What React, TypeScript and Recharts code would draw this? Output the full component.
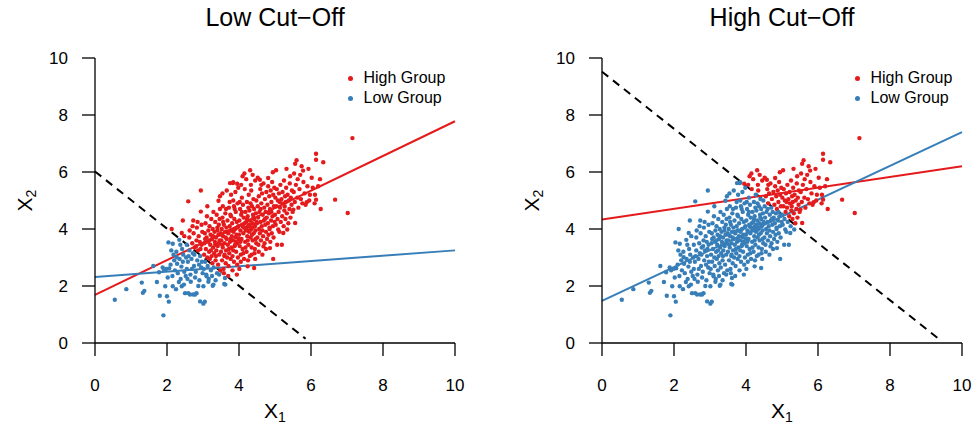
import React from "react";
import {
  ScatterChart,
  Scatter,
  XAxis,
  YAxis,
  ReferenceLine,
  Label,
} from "recharts";

const RED = "#E41A1C";
const BLUE = "#377EB8";
const FONT = "'Liberation Sans', Arial, Helvetica, sans-serif";

// [X1, X2] (same points in both panels)
const POINTS: [number, number][] = [
  [0.55, 1.52], [0.87, 1.89], [1.3, 2.12], [1.37, 1.83], [1.33, 1.76],
  [1.62, 2.7], [1.72, 2.14], [1.8, 1.66], [1.9, 0.97], [1.88, 2.65], [1.95, 1.99], [1.78, 2.48], [1.92, 2.55], [1.98, 2.6],
  [2.0, 1.64], [2.05, 1.45], [2.16, 1.99], [2.25, 1.89], [2.33, 2.14], [2.04, 3.53], [2.16, 3.48], [2.34, 3.62],
  [2.37, 3.45], [2.42, 3.3], [2.18, 3.1], [2.27, 3.01], [2.13, 4.0], [2.06, 2.62], [2.1, 2.75], [2.2, 2.9],
  [2.22, 2.55], [2.28, 2.78], [2.3, 2.45], [2.35, 2.95], [2.4, 2.68], [2.45, 3.1], [2.48, 2.5], [2.15, 2.35],
  [2.38, 2.25], [2.44, 2.85], [2.12, 3.25], [2.26, 3.2], [2.41, 1.99], [2.48, 3.75], [2.02, 2.3], [2.47, 2.05],
  [2.44, 4.3], [2.41, 3.86],
  [2.59, 4.97], [2.94, 5.35], [2.94, 4.61], [2.73, 4.3], [2.5, 1.75], [2.59, 1.75], [2.64, 1.7], [2.73, 1.7],
  [2.82, 1.75], [2.78, 1.7], [2.92, 1.46], [2.52, 2.35], [2.55, 2.6], [2.58, 2.85], [2.6, 3.05], [2.62, 3.25],
  [2.65, 2.4], [2.68, 2.95], [2.7, 3.5], [2.72, 3.15], [2.75, 2.7], [2.77, 3.35], [2.8, 2.5], [2.82, 3.6],
  [2.84, 2.9], [2.86, 3.25], [2.88, 3.75], [2.9, 2.2], [2.92, 3.05], [2.95, 2.65], [2.96, 3.45], [2.98, 3.9],
  [2.55, 3.45], [2.62, 3.7], [2.66, 2.15], [2.74, 3.85], [2.78, 2.3], [2.83, 4.05], [2.87, 2.0], [2.93, 3.3],
  [2.97, 2.85], [2.53, 3.0], [2.57, 2.25], [2.69, 2.6], [2.76, 3.1], [2.81, 3.4], [2.89, 2.75], [2.91, 3.55],
  [2.99, 2.45], [2.63, 3.95], [2.71, 4.1], [2.85, 4.25], [2.96, 4.15],
  [3.01, 1.99], [3.01, 1.38], [3.05, 1.45], [3.1, 2.34], [3.27, 2.01], [3.29, 2.05], [3.43, 4.99], [3.47, 5.15],
  [3.02, 2.6], [3.03, 3.1], [3.04, 3.5], [3.05, 3.85], [3.06, 2.85], [3.07, 4.2], [3.08, 3.3], [3.09, 2.4],
  [3.1, 3.7], [3.11, 4.45], [3.12, 3.0], [3.13, 2.7], [3.14, 3.55], [3.15, 3.95], [3.16, 2.25], [3.17, 3.2],
  [3.18, 4.1], [3.19, 2.95], [3.2, 3.45], [3.21, 3.8], [3.22, 2.55], [3.23, 4.35], [3.24, 3.05], [3.25, 3.65],
  [3.26, 2.8], [3.27, 4.0], [3.28, 3.35], [3.29, 4.6], [3.3, 2.65], [3.31, 3.15], [3.32, 3.9], [3.33, 3.55],
  [3.34, 4.25], [3.35, 2.9], [3.36, 3.7], [3.37, 3.25], [3.38, 4.5], [3.39, 2.45], [3.4, 3.95], [3.41, 3.4],
  [3.42, 2.75], [3.43, 3.8], [3.44, 4.15], [3.45, 3.1], [3.46, 3.6], [3.47, 4.7], [3.48, 2.55], [3.49, 3.85],
  [3.12, 4.8], [3.22, 3.25], [3.36, 3.05], [3.44, 3.5], [3.06, 3.65], [3.18, 3.6], [3.28, 3.75], [3.34, 3.45],
  [3.4, 4.05], [3.46, 4.35], [3.15, 2.15], [3.25, 2.35], [3.35, 2.2], [3.45, 2.4],
  [3.59, 2.07], [3.62, 2.05], [3.61, 2.28], [3.75, 5.61], [3.84, 5.64], [3.95, 5.59], [3.95, 2.75], [3.83, 5.61],
  [3.5, 3.2], [3.51, 3.6], [3.52, 4.0], [3.53, 2.9], [3.54, 4.4], [3.55, 3.35], [3.56, 3.75], [3.57, 2.6],
  [3.58, 4.15], [3.59, 3.05], [3.6, 3.5], [3.61, 3.9], [3.62, 4.55], [3.63, 2.8], [3.64, 3.25], [3.65, 4.05],
  [3.66, 3.65], [3.67, 3.0], [3.68, 4.3], [3.69, 3.45], [3.7, 3.85], [3.71, 2.7], [3.72, 4.75], [3.73, 3.15],
  [3.74, 4.1], [3.75, 3.55], [3.76, 3.95], [3.77, 2.95], [3.78, 4.45], [3.79, 3.35], [3.8, 3.75], [3.81, 4.2],
  [3.82, 3.05], [3.83, 3.6], [3.84, 5.0], [3.85, 3.9], [3.86, 2.85], [3.87, 4.35], [3.88, 3.4], [3.89, 4.0],
  [3.9, 3.7], [3.91, 4.6], [3.92, 3.2], [3.93, 3.8], [3.94, 4.25], [3.95, 3.5], [3.96, 4.9], [3.97, 3.0],
  [3.98, 4.1], [3.99, 3.65], [3.52, 3.8], [3.56, 4.25], [3.6, 3.1], [3.64, 4.7], [3.68, 3.9], [3.72, 3.3],
  [3.76, 4.5], [3.8, 3.95], [3.84, 3.25], [3.88, 4.7], [3.92, 3.55], [3.96, 4.05], [3.54, 5.25], [3.66, 5.35],
  [3.78, 5.2], [3.9, 5.3], [3.58, 2.45], [3.7, 2.35], [3.82, 2.55], [3.94, 2.4], [3.55, 4.8], [3.74, 4.95],
  [3.86, 4.8], [3.98, 5.45], [3.63, 3.7], [3.77, 3.65], [3.89, 3.45], [3.53, 3.45],
  [4.01, 2.6], [4.31, 6.06], [4.1, 5.85], [4.42, 2.63], [4.24, 2.69],
  [4.0, 3.8], [4.01, 4.3], [4.02, 3.4], [4.03, 4.7], [4.04, 3.95], [4.05, 3.1], [4.06, 4.5], [4.07, 3.65],
  [4.08, 5.1], [4.09, 4.15], [4.1, 3.3], [4.11, 4.85], [4.12, 3.85], [4.13, 4.4], [4.14, 2.95], [4.15, 4.05],
  [4.16, 5.4], [4.17, 3.55], [4.18, 4.6], [4.19, 3.95], [4.2, 4.25], [4.21, 3.2], [4.22, 4.95], [4.23, 3.75],
  [4.24, 4.45], [4.25, 4.1], [4.26, 3.45], [4.27, 5.2], [4.28, 3.9], [4.29, 4.65], [4.3, 3.05], [4.31, 4.3],
  [4.32, 3.7], [4.33, 5.55], [4.34, 4.0], [4.35, 3.35], [4.36, 4.8], [4.37, 4.2], [4.38, 3.6], [4.39, 4.5],
  [4.4, 5.05], [4.41, 3.85], [4.42, 4.35], [4.43, 3.15], [4.44, 4.1], [4.45, 5.7], [4.46, 3.95], [4.47, 4.55],
  [4.48, 3.5], [4.49, 4.25], [4.02, 4.95], [4.06, 5.55], [4.12, 3.15], [4.16, 4.2], [4.2, 5.75], [4.24, 3.6],
  [4.28, 4.15], [4.32, 4.9], [4.36, 3.8], [4.4, 4.4], [4.44, 3.3], [4.48, 5.0], [4.04, 3.55], [4.08, 4.6],
  [4.14, 4.05], [4.18, 3.35], [4.22, 4.35], [4.26, 4.75], [4.3, 3.95], [4.34, 5.35], [4.38, 4.05], [4.42, 4.7],
  [4.46, 3.65], [4.05, 2.85], [4.25, 2.9], [4.35, 3.1], [4.45, 2.95], [4.15, 5.95], [4.38, 5.9], [4.1, 4.1],
  [4.3, 4.1], [4.43, 4.15], [4.21, 4.0],
  [4.58, 5.73], [4.81, 5.79], [4.94, 5.99], [4.95, 2.95], [4.86, 3.33], [4.68, 3.39],
  [4.5, 4.2], [4.51, 3.7], [4.52, 4.8], [4.53, 4.4], [4.54, 3.45], [4.55, 5.15], [4.56, 4.0], [4.57, 4.6],
  [4.58, 3.85], [4.59, 5.4], [4.6, 4.25], [4.61, 3.6], [4.62, 4.9], [4.63, 4.1], [4.64, 5.25], [4.65, 3.95],
  [4.66, 4.5], [4.67, 3.75], [4.68, 5.6], [4.69, 4.3], [4.7, 4.75], [4.71, 3.5], [4.72, 5.05], [4.73, 4.15],
  [4.74, 4.6], [4.75, 3.9], [4.76, 5.3], [4.77, 4.4], [4.78, 3.65], [4.79, 4.85], [4.8, 4.2], [4.81, 5.5],
  [4.82, 3.8], [4.83, 4.55], [4.84, 5.15], [4.85, 4.05], [4.86, 4.7], [4.87, 3.55], [4.88, 5.35], [4.89, 4.3],
  [4.9, 4.95], [4.91, 3.85], [4.92, 5.65], [4.93, 4.45], [4.94, 4.1], [4.95, 5.2], [4.96, 3.7], [4.97, 4.8],
  [4.98, 5.45], [4.99, 4.25], [4.55, 3.2], [4.65, 3.1], [4.75, 3.3], [4.85, 4.0], [4.52, 5.8], [4.62, 5.55],
  [4.72, 4.35], [4.9, 4.6], [4.6, 4.7],
  [5.03, 6.06], [5.32, 6.11], [5.06, 3.45], [5.34, 3.98], [5.19, 3.45], [5.23, 3.86], [5.09, 3.98],
  [5.0, 4.5], [5.01, 5.1], [5.02, 4.15], [5.04, 4.8], [5.05, 5.4], [5.07, 4.35], [5.08, 5.0], [5.1, 4.6],
  [5.11, 5.25], [5.12, 3.9], [5.14, 4.75], [5.15, 5.55], [5.16, 4.25], [5.18, 5.05], [5.2, 4.45], [5.21, 5.3],
  [5.22, 4.9], [5.24, 4.1], [5.25, 5.7], [5.26, 4.65], [5.28, 5.15], [5.29, 4.35], [5.3, 4.95], [5.31, 5.45],
  [5.33, 4.55], [5.35, 5.2], [5.37, 4.2], [5.38, 5.0], [5.4, 4.7], [5.41, 5.6], [5.43, 4.4], [5.44, 5.1],
  [5.46, 4.85], [5.47, 5.35], [5.49, 4.6], [5.13, 4.95], [5.27, 4.8], [5.42, 5.85],
  [5.51, 4.68], [5.56, 4.21], [5.56, 6.29], [5.6, 6.41], [5.74, 6.2], [5.88, 4.94], [5.97, 5.2], [5.93, 6.11],
  [5.52, 5.3], [5.55, 4.95], [5.58, 5.55], [5.62, 5.1], [5.65, 4.75], [5.68, 5.4], [5.7, 5.9], [5.72, 5.05],
  [5.76, 4.9], [5.79, 5.65], [5.82, 5.25], [5.85, 4.85], [5.9, 5.5], [5.95, 5.0], [5.63, 5.75], [5.78, 6.05],
  [5.53, 5.95],
  [6.14, 6.64], [6.14, 6.43], [6.34, 6.34], [6.25, 5.75], [6.11, 5.2], [6.14, 5.03], [6.27, 4.7], [6.67, 5.03],
  [7.02, 4.56], [7.15, 7.19], [6.05, 5.45], [6.1, 4.9], [6.2, 5.5], [6.02, 5.8],
];

const TICKS = [0, 2, 4, 6, 8, 10];
const TITLES = ["Low Cut\u2212Off", "High Cut\u2212Off"];
const GROUPS = ["High Group", "Low Group"];
const CUTOFFS = [6, 9.5];
// dashed cut-off segments, [x1, x2] endpoints
const CUT_LINES = [
  [[0, 6.02], [5.85, 0.15]],
  [[0, 9.52], [9.4, 0.1]],
];
// fitted lines per group, [x1, x2] endpoints
const HIGH_FITS = [
  [[0, 1.69], [10, 7.78]],
  [[0, 4.33], [10, 6.2]],
];
const LOW_FITS = [
  [[0, 2.32], [10, 3.25]],
  [[0, 1.48], [10, 7.4]],
];

const seg = (s: number[][]) => s.map(([x, y]) => ({ x, y }));

function dot(color: string) {
  return (p: any) => <circle cx={p.cx} cy={p.cy} r={2.2} fill={color} />;
}

function XLabel({ viewBox }: any) {
  const cx = viewBox.x + viewBox.width / 2;
  return (
    <text x={cx} y={418} textAnchor="middle" fontFamily={FONT} fontSize={21} fill="#000">
      X<tspan fontSize={14} dy={4}>1</tspan>
    </text>
  );
}

function YLabel({ viewBox }: any) {
  const bx = viewBox.x + viewBox.width - 63;
  const cy = viewBox.y + viewBox.height / 2;
  return (
    <text
      x={bx}
      y={cy}
      transform={`rotate(-90 ${bx} ${cy})`}
      textAnchor="middle"
      fontFamily={FONT}
      fontSize={21}
      fill="#000"
    >
      X<tspan fontSize={14} dy={4}>2</tspan>
    </text>
  );
}

function LegendBox({ left }: { left: number }) {
  const colors = [RED, BLUE];
  return (
    <div
      style={{
        position: "absolute",
        left,
        top: 68,
        fontFamily: FONT,
        fontSize: 16,
        color: "#000",
      }}
    >
      {GROUPS.map((g, i) => (
        <div key={g} style={{ display: "flex", alignItems: "center", height: 20 }}>
          <span
            style={{
              width: 5,
              height: 5,
              borderRadius: "50%",
              background: colors[i],
              display: "inline-block",
              marginRight: 11,
            }}
          />
          {g}
        </div>
      ))}
    </div>
  );
}

function Panel({ idx }: { idx: number }) {
  const cut = CUTOFFS[idx];
  const high = POINTS.filter(([a, b]) => a + b > cut).map(([x, y]) => ({ x, y }));
  const low = POINTS.filter(([a, b]) => a + b <= cut).map(([x, y]) => ({ x, y }));
  const yAxisW = idx === 0 ? 95 : 115;
  const rightM = idx === 0 ? 32 : 12;
  const axisStyle = { stroke: "#000", strokeWidth: 1.3 };
  const tick = { fill: "#000", fontSize: 17, fontFamily: FONT };

  return (
    <div style={{ position: "relative", width: 487, height: 425 }}>
      <div
        style={{
          position: "absolute",
          top: 0,
          left: yAxisW,
          width: 360,
          textAlign: "center",
          fontFamily: FONT,
          fontSize: 25,
          lineHeight: "34px",
          color: "#000",
        }}
      >
        {TITLES[idx]}
      </div>
      <ScatterChart
        width={487}
        height={425}
        margin={{ top: 58, right: rightM, bottom: 0, left: 0 }}
      >
        <XAxis
          type="number"
          dataKey="x"
          domain={[0, 10]}
          ticks={TICKS}
          interval={0}
          allowDataOverflow
          height={82}
          tickSize={13}
          tickMargin={23}
          axisLine={axisStyle}
          tickLine={axisStyle}
          tick={tick}
        >
          <Label content={<XLabel />} />
        </XAxis>
        <YAxis
          type="number"
          dataKey="y"
          domain={[0, 10]}
          ticks={TICKS}
          interval={0}
          allowDataOverflow
          width={yAxisW}
          tickSize={13}
          tickMargin={14}
          axisLine={axisStyle}
          tickLine={axisStyle}
          tick={tick}
        >
          <Label content={<YLabel />} />
        </YAxis>
        <Scatter name={GROUPS[0]} data={high} fill={RED} shape={dot(RED)} isAnimationActive={false} />
        <Scatter name={GROUPS[1]} data={low} fill={BLUE} shape={dot(BLUE)} isAnimationActive={false} />
        <ReferenceLine
          segment={seg(CUT_LINES[idx])}
          stroke="#000"
          strokeWidth={2}
          strokeDasharray="8 6"
          ifOverflow="visible"
        />
        <ReferenceLine segment={seg(HIGH_FITS[idx])} stroke={RED} strokeWidth={2} ifOverflow="visible" />
        <ReferenceLine segment={seg(LOW_FITS[idx])} stroke={BLUE} strokeWidth={2} ifOverflow="visible" />
      </ScatterChart>
      <LegendBox left={yAxisW + 252.5} />
    </div>
  );
}

export default function App() {
  return (
    <div
      style={{
        position: "absolute",
        left: 0,
        top: 0,
        width: 974,
        height: 425,
        background: "#fff",
        display: "flex",
      }}
    >
      <Panel idx={0} />
      <Panel idx={1} />
    </div>
  );
}
